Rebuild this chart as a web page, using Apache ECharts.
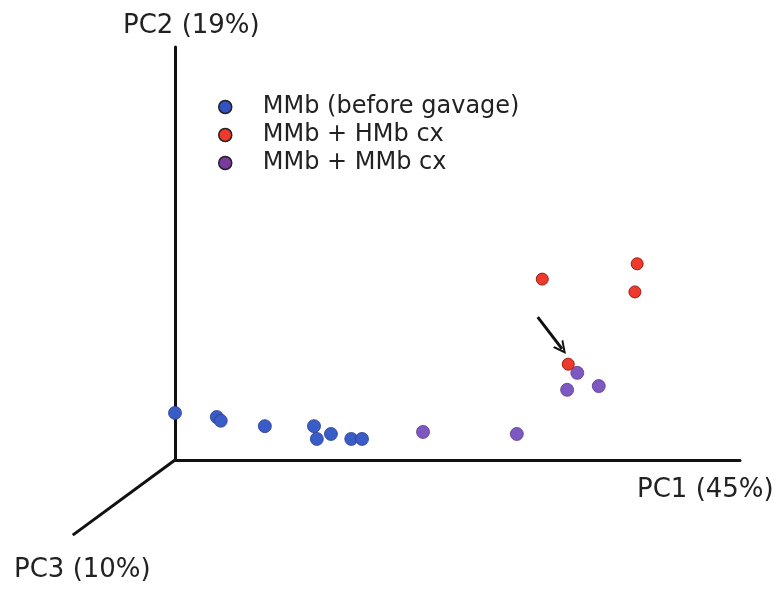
<!DOCTYPE html>
<html>
<head>
<meta charset="utf-8">
<script src="https://cdn.jsdelivr.net/npm/echarts@6/dist/echarts.min.js"></script>
<style>html,body{margin:0;padding:0;background:#fff}#c{width:780px;height:591px}</style>
</head>
<body>
<div id="c"></div>
<script>
// PCA scores in projected (PC1, PC2) units, axis origin at (0,0)
var seriesNames = ['MMb (before gavage)', 'MMb + HMb cx', 'MMb + MMb cx'];
var blueX = [0.0, 7.4, 8.1, 15.9, 24.6, 25.1, 27.6, 31.2, 33.1];
var blueY = [11.4, 10.4, 9.5, 8.2, 8.2, 5.1, 6.3, 5.1, 5.1];
var redX = [65.0, 81.8, 81.4, 69.6];
var redY = [43.8, 47.5, 40.7, 23.2];
var purpleX = [43.9, 60.5, 71.2, 69.4, 75.0];
var purpleY = [6.8, 6.3, 21.1, 17.0, 17.9];
var pc3End = [-18.1, -18.2];
var arrowFrom = [64.2, 34.6];
var arrowTo = [68.5, 26.9];
var axisTitles = ['PC1 (45%)', 'PC2 (19%)', 'PC3 (10%)'];

function zip(xs, ys) { return xs.map(function (x, i) { return [x, ys[i]]; }); }

var chart = echarts.init(document.getElementById('c'), null, {renderer: 'canvas'});
var FONT = '"DejaVu Sans"';
var legendColors = ['#3552c2', '#f0392b', '#7b3b9e'];
var pointColors = ['#3a5cc6', '#ee3a2c', '#7c58c0'];
var borderColors = ['#2a3f90', '#9a1c14', '#5a3a90'];

var option = {
  animation: false,
  backgroundColor: '#fff',
  grid: {left: 175, right: 40, top: 47, bottom: 131},
  xAxis: {
    type: 'value', min: 0, max: 100,
    axisLine: {show: true, onZero: false, lineStyle: {color: '#111', width: 3}},
    axisTick: {show: false}, axisLabel: {show: false}, splitLine: {show: false}
  },
  yAxis: {
    type: 'value', min: 0, max: 100,
    axisLine: {show: true, onZero: false, lineStyle: {color: '#111', width: 3}},
    axisTick: {show: false}, axisLabel: {show: false}, splitLine: {show: false}
  },
  legend: {
    orient: 'vertical', left: 213, top: 88,
    itemWidth: 13, itemHeight: 13, itemGap: 0,
    icon: 'circle',
    textStyle: {fontFamily: 'DejaVu Sans', fontSize: 24, color: '#222', lineHeight: 28, padding: [0, 0, 0, 26]},
    data: seriesNames.map(function (n, i) {
      return {name: n, itemStyle: {color: legendColors[i], borderColor: '#222', borderWidth: 1.5}};
    })
  },
  series: [
    {
      name: seriesNames[0], type: 'scatter', data: zip(blueX, blueY), symbolSize: 13,
      itemStyle: {color: pointColors[0], borderColor: borderColors[0], borderWidth: 0.8, opacity: 1}, z: 3
    },
    {
      name: seriesNames[1], type: 'scatter', data: zip(redX, redY), symbolSize: 12,
      itemStyle: {color: pointColors[1], borderColor: borderColors[1], borderWidth: 1, opacity: 1}, z: 3,
      markLine: {
        silent: true, animation: false,
        symbol: ['none', 'path://M0,12 L6,0 L12,12 L10,12 L6,4 L2,12 Z'],
        symbolSize: [13, 13],
        lineStyle: {color: '#111', width: 3, type: 'solid'},
        label: {show: false},
        data: [[{coord: arrowFrom}, {coord: arrowTo}]]
      }
    },
    {
      name: seriesNames[2], type: 'scatter', data: zip(purpleX, purpleY), symbolSize: 13,
      itemStyle: {color: pointColors[2], borderColor: borderColors[2], borderWidth: 0.8, opacity: 1}, z: 2
    }
  ]
};
chart.setOption(option);

var o = chart.convertToPixel({gridIndex: 0}, [0, 0]);
var e = chart.convertToPixel({gridIndex: 0}, pc3End);
chart.setOption({
  graphic: [
    {type: 'line', shape: {x1: o[0], y1: o[1], x2: e[0], y2: e[1]}, style: {stroke: '#111', lineWidth: 3}, z: 1},
    {type: 'text', left: 123, top: 13, style: {text: axisTitles[1], font: '26px ' + FONT, fill: '#222'}},
    {type: 'text', left: 637, top: 477, style: {text: axisTitles[0], font: '26px ' + FONT, fill: '#222'}},
    {type: 'text', left: 14, top: 557, style: {text: axisTitles[2], font: '26px ' + FONT, fill: '#222'}}
  ]
});
</script>
</body>
</html>
